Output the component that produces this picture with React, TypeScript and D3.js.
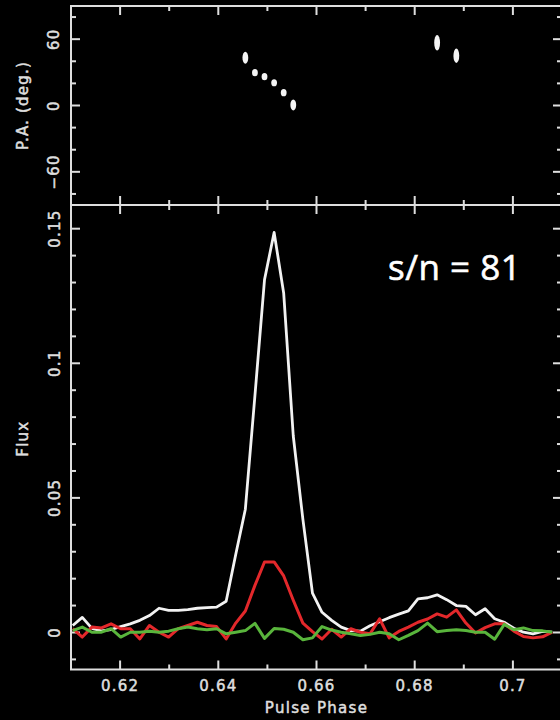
import React from "react";
import * as d3 from "d3";

// phase bins (512 bins per turn), m0..m50
const phase = [
  0.61035, 0.6123, 0.61426, 0.61621, 0.61816, 0.62012, 0.62207, 0.62402, 0.62598, 0.62793,
  0.62988, 0.63184, 0.63379, 0.63574, 0.6377, 0.63965, 0.6416, 0.64355, 0.64551, 0.64746,
  0.64941, 0.65137, 0.65332, 0.65527, 0.65723, 0.65918, 0.66113, 0.66309, 0.66504, 0.66699,
  0.66895, 0.6709, 0.67285, 0.6748, 0.67676, 0.67871, 0.68066, 0.68262, 0.68457, 0.68652,
  0.68848, 0.69043, 0.69238, 0.69434, 0.69629, 0.69824, 0.7002, 0.70215, 0.7041, 0.70605,
  0.70801,
];

const totalFlux = [
  0.0026, 0.0056, 0.0015, 0.0006, 0.0011, 0.0022, 0.0032, 0.0045, 0.0063, 0.009,
  0.0082, 0.0082, 0.0085, 0.009, 0.0092, 0.0094, 0.0116, 0.029, 0.0458, 0.088,
  0.131, 0.1486, 0.126, 0.073, 0.042, 0.0146, 0.0075, 0.0045, 0.002, 0.0007,
  0.0005, 0.0025, 0.004, 0.0055, 0.0068, 0.008, 0.0125, 0.0129, 0.014, 0.0122,
  0.01, 0.0097, 0.0066, 0.0088, 0.0051, 0.0038, 0.0016, 0.0001, -0.0005, 0.0004,
  0.0001,
];

const linearFlux = [
  0.0014, -0.0017, 0.002, 0.0017, 0.0032, 0.0014, 0.0014, -0.0024, 0.0026, 0.0001,
  -0.0017, 0.0014, 0.0026, 0.0038, 0.0026, 0.0022, -0.0024, 0.0035, 0.008, 0.0175,
  0.0262, 0.0262, 0.021, 0.012, 0.0035, 0.0003, -0.0024, 0.0012, -0.0017, 0.0014,
  0.0001, -0.0005, 0.0051, -0.002, 0.0004, 0.002, 0.0038, 0.005, 0.0069, 0.0057,
  0.0084, 0.0035, -0.0002, 0.0018, 0.0032, 0.0032, 0.0005, -0.0015, -0.002, -0.0016,
  0.0001,
];

const circularFlux = [
  0.0007, 0.002, 0.0001, 0.0001, 0.0014, -0.0017, 0.0001, 0.0001, 0.0005, 0.0001,
  0.0005, 0.0014, 0.002, 0.0014, 0.001, 0.0014, -0.0005, 0.0001, 0.0007, 0.0034,
  -0.0022, 0.0015, 0.0012, 0.0001, -0.0027, -0.002, 0.0022, 0.0009, 0.0001, -0.0005,
  -0.0011, -0.0007, 0.0001, -0.0005, -0.0027, -0.0011, 0.0007, 0.0035, 0.0003, 0.0007,
  0.001, 0.0007, 0.0001, 0.0001, -0.0025, 0.003, 0.001, 0.0017, 0.0007, 0.0006,
  0.0001,
];

// position angle points
const paPhase = [0.64551, 0.64746, 0.64941, 0.65137, 0.65332, 0.65527, 0.68457, 0.68848];
const paDeg = [43.2, 29.7, 26.1, 20.6, 11.6, 0.5, 56.8, 45.0];
const paErr = [5.5, 2.6, 2.4, 2.4, 2.6, 5.0, 7.0, 6.5];

const phaseTicks = [0.62, 0.64, 0.66, 0.68, 0.7];
const phaseTickLabels = ["0.62", "0.64", "0.66", "0.68", "0.7"];
const fluxTicks = [0, 0.05, 0.1, 0.15];
const fluxTickLabels = ["0", "0.05", "0.1", "0.15"];
const paTicks = [-60, 0, 60];
const paTickLabels = ["\u221260", "0", "60"];

const W = 560;
const H = 720;
const left = 71;
const right = 562;
const top = 6;
const mid = 205;
const bottom = 669.5;

const axisColor = "#dedede";
const font = "'DejaVu Sans', sans-serif";

const x = d3.scaleLinear().domain([0.61, 0.71]).range([left, right]);
const yPA = d3.scaleLinear().domain([-90, 90]).range([mid, top]);
const yFlux = d3.scaleLinear().domain([-0.01375, 0.1588]).range([bottom, mid]);

const isMul = (v, step) => Math.abs(v / step - Math.round(v / step)) < 1e-6;

const App = () => {
  const minorX = d3.range(61, 72).map((d) => d / 100);
  const minorPA = d3.range(-80, 81, 20);
  const minorFlux = d3.range(-1, 16).map((d) => d / 100);

  const line = (vals) =>
    d3
      .line()
      .x((d, i) => x(phase[i]))
      .y((d) => yFlux(d))(vals);

  const ticks = [];
  // x ticks on both panels (top and bottom edges of each)
  minorX.forEach((v, i) => {
    const len = isMul(v, 0.02) ? 9 : 5;
    const px = x(v);
    [
      [top, top + len],
      [mid, mid - len],
      [mid, mid + len],
      [bottom, bottom - len],
    ].forEach(([a, b], j) => {
      ticks.push(<line key={`x${i}-${j}`} x1={px} x2={px} y1={a} y2={b} />);
    });
  });
  minorPA.forEach((v, i) => {
    const len = v % 60 === 0 ? 9 : 5;
    const py = yPA(v);
    ticks.push(<line key={`pl${i}`} x1={left} x2={left + len} y1={py} y2={py} />);
    ticks.push(<line key={`pr${i}`} x1={right} x2={right - len} y1={py} y2={py} />);
  });
  minorFlux.forEach((v, i) => {
    const len = isMul(v, 0.05) ? 9 : 5;
    const py = yFlux(v);
    ticks.push(<line key={`fl${i}`} x1={left} x2={left + len} y1={py} y2={py} />);
    ticks.push(<line key={`fr${i}`} x1={right} x2={right - len} y1={py} y2={py} />);
  });

  const textStyle = {
    fill: axisColor,
    fontFamily: font,
    fontSize: 15,
    letterSpacing: 1.2,
    stroke: axisColor,
    strokeWidth: 0.5,
  };

  return (
    <svg
      width={W}
      height={H}
      style={{ position: "absolute", left: 0, top: 0, background: "#000" }}
    >
      <rect x={0} y={0} width={W} height={H} fill="#000" />
      <defs>
        <clipPath id="plotClip">
          <rect x={left} y={mid} width={right - left} height={bottom - mid} />
        </clipPath>
        <filter id="soft" x="-50%" y="-50%" width="200%" height="200%">
          <feGaussianBlur stdDeviation="0.6" />
        </filter>
      </defs>

      {/* frames */}
      <g stroke={axisColor} strokeWidth={2} fill="none">
        <rect x={left} y={top} width={right - left} height={bottom - top} />
        <line x1={left} x2={right} y1={mid} y2={mid} />
        {ticks}
      </g>

      {/* flux profiles */}
      <g clipPath="url(#plotClip)" fill="none" strokeLinejoin="round">
        <path d={line(totalFlux)} stroke="#f2f2f2" strokeWidth={2.8} />
        <path d={line(linearFlux)} stroke="#e3282b" strokeWidth={3} />
        <path d={line(circularFlux)} stroke="#59b53c" strokeWidth={3} />
      </g>

      {/* position angles */}
      <g fill="#f4f4f4" filter="url(#soft)">
        {paDeg.map((d, i) => (
          <ellipse
            key={i}
            cx={x(paPhase[i])}
            cy={yPA(d)}
            rx={2.9}
            ry={Math.max(3.6, yPA(0) - yPA(paErr[i]))}
          />
        ))}
      </g>

      {/* tick labels */}
      <g style={textStyle}>
        {phaseTicks.map((v, i) => (
          <text key={i} x={x(v)} y={691} textAnchor="middle">
            {phaseTickLabels[i]}
          </text>
        ))}
        {fluxTicks.map((v, i) => (
          <text
            key={i}
            transform={`translate(60,${yFlux(v)}) rotate(-90)`}
            textAnchor="middle"
          >
            {fluxTickLabels[i]}
          </text>
        ))}
        {paTicks.map((v, i) => (
          <text
            key={i}
            transform={`translate(59,${yPA(v)}) rotate(-90)`}
            textAnchor="middle"
          >
            {paTickLabels[i]}
          </text>
        ))}
        <text x={(left + 562) / 2} y={713} textAnchor="middle" style={{ letterSpacing: 1.3 }}>
          Pulse Phase
        </text>
        <text transform={`translate(28,${yFlux(0.072)}) rotate(-90)`} textAnchor="middle">
          Flux
        </text>
        <text transform={`translate(28,${yPA(0)}) rotate(-90)`} textAnchor="middle">
          P.A. (deg.)
        </text>
      </g>

      <text
        x={388}
        y={280}
        fill="#ffffff"
        stroke="#ffffff"
        strokeWidth={0.6}
        fontFamily="'Open Sans', 'Lato', sans-serif"
        fontSize={35}
        letterSpacing={0.5}
      >
        s/n = 81
      </text>
    </svg>
  );
};

export default App;
